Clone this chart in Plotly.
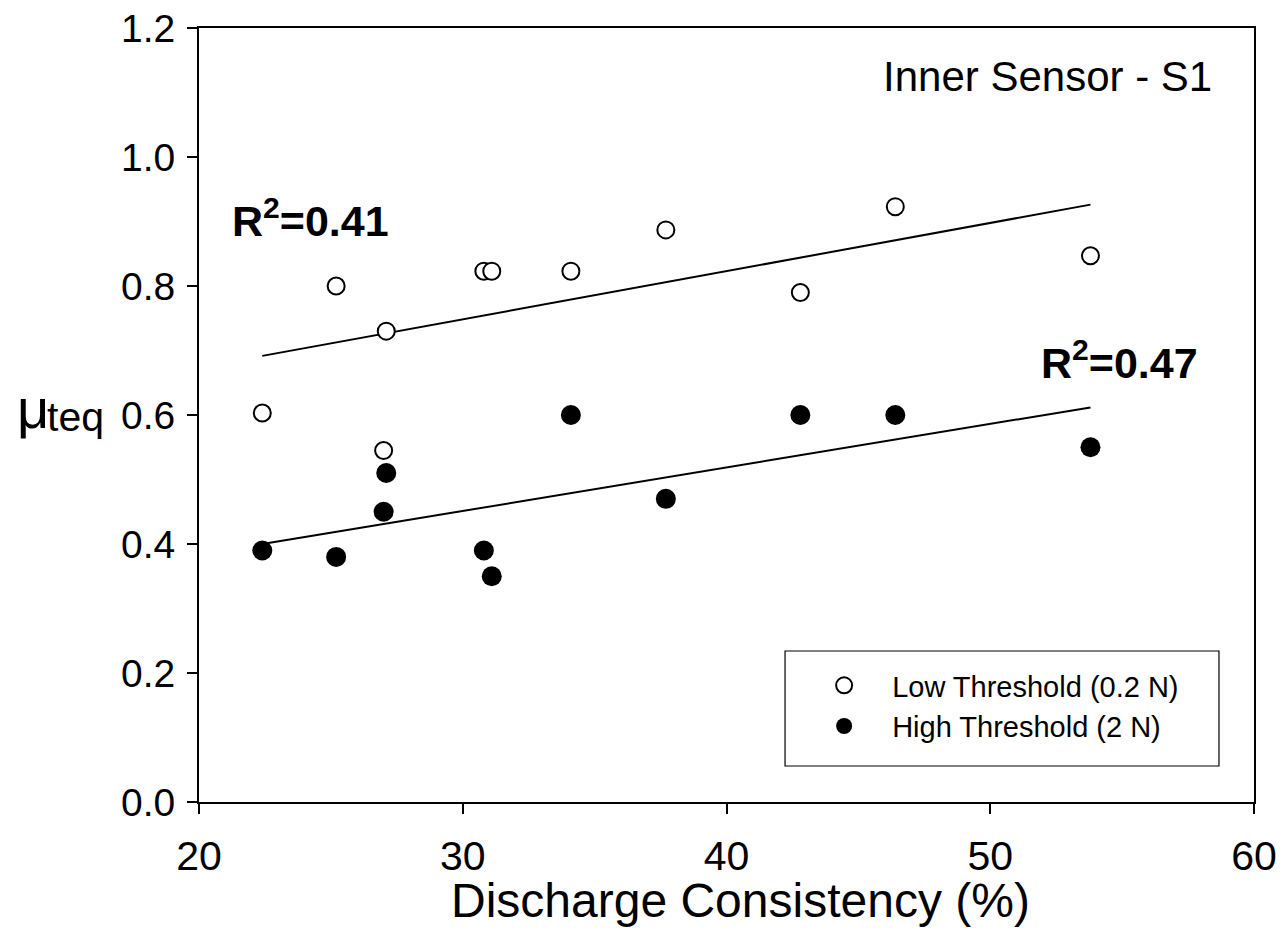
import numpy as np
import plotly.graph_objects as go

# ---- data ----
low_x = [22.4, 25.2, 27.1, 27.0, 30.8, 31.1, 34.1, 37.7, 42.8, 46.4, 53.8]
low_y = [0.603, 0.800, 0.730, 0.545, 0.823, 0.823, 0.823, 0.887, 0.790, 0.923, 0.847]
high_x = [22.4, 25.2, 27.0, 27.1, 30.8, 31.1, 34.1, 37.7, 42.8, 46.4, 53.8]
high_y = [0.390, 0.380, 0.450, 0.510, 0.390, 0.350, 0.600, 0.470, 0.600, 0.600, 0.550]
series_names = ["Low Threshold (0.2 N)", "High Threshold (2 N)"]
r2_labels = ["R<sup>2</sup>=0.41", "R<sup>2</sup>=0.47"]
x_ticks = [20, 30, 40, 50, 60]
y_ticks = [0.0, 0.2, 0.4, 0.6, 0.8, 1.0, 1.2]

FONT = "Liberation Sans, Arial, sans-serif"

def fit_line(xs, ys):
    m, b = np.polyfit(xs, ys, 1)
    xx = np.array([min(xs), max(xs)])
    return xx, m * xx + b

fig = go.Figure()

for xs, ys in [(low_x, low_y), (high_x, high_y)]:
    lx, ly = fit_line(xs, ys)
    fig.add_trace(go.Scatter(x=lx, y=ly, mode="lines", line=dict(color="black", width=2),
                             showlegend=False, hoverinfo="skip"))

fig.add_trace(go.Scatter(x=low_x, y=low_y, mode="markers", name=series_names[0],
                         marker=dict(symbol="circle", size=17, color="white",
                                     line=dict(color="black", width=2))))
fig.add_trace(go.Scatter(x=high_x, y=high_y, mode="markers", name=series_names[1],
                         marker=dict(symbol="circle", size=20, color="black",
                                     line=dict(color="black", width=0))))

axis_common = dict(showgrid=False, zeroline=False, showline=True, linecolor="black",
                   linewidth=2, mirror=True, ticks="outside", ticklen=10, tickwidth=1.5,
                   tickcolor="black", automargin=False)

fig.update_xaxes(range=[20, 60], tickvals=x_ticks, ticktext=[str(v) for v in x_ticks],
                 ticklabelstandoff=7, tickfont=dict(family=FONT, size=41, color="black"),
                 **axis_common)
fig.update_yaxes(range=[0, 1.2], tickvals=y_ticks, ticktext=[f"{v:.1f}" for v in y_ticks],
                 ticklabelstandoff=4, tickfont=dict(family=FONT, size=39, color="black"),
                 **axis_common)

annotations = [
    dict(text="Discharge Consistency (%)", x=0.5137, y=-0.1267, xref="paper", yref="paper",
         xanchor="center", yanchor="middle", showarrow=False,
         font=dict(family=FONT, size=48, color="black")),
    dict(text="\u03bc", x=-0.1745, y=0.509, xref="paper", yref="paper",
         xanchor="left", yanchor="middle", showarrow=False,
         font=dict(family=FONT, size=56, color="black")),
    dict(text="teq", x=-0.1460, y=0.497, xref="paper", yref="paper",
         xanchor="left", yanchor="middle", showarrow=False,
         font=dict(family=FONT, size=41, color="black")),
    dict(text="Inner Sensor - S1", x=0.9620, y=0.9367, xref="paper", yref="paper",
         xanchor="right", yanchor="middle", showarrow=False,
         font=dict(family=FONT, size=42, color="black")),
    dict(text="<b>" + r2_labels[0] + "</b>", x=0.0290, y=0.7544, xref="paper", yref="paper",
         xanchor="left", yanchor="middle", showarrow=False,
         font=dict(family=FONT, size=43, color="black")),
    dict(text="<b>" + r2_labels[1] + "</b>", x=0.7965, y=0.5709, xref="paper", yref="paper",
         xanchor="left", yanchor="middle", showarrow=False,
         font=dict(family=FONT, size=43, color="black")),
]

fig.update_layout(
    width=1284, height=928,
    margin=dict(l=199, r=30, t=28, b=126, autoexpand=False),
    paper_bgcolor="white", plot_bgcolor="white",
    font=dict(family=FONT, color="black"),
    annotations=annotations,
    shapes=[dict(type="rect", xref="paper", yref="paper", x0=0.5555, x1=0.9668,
                 y0=0.0465, y1=0.1951, line=dict(color="black", width=1.2),
                 fillcolor="rgba(0,0,0,0)")],
    legend=dict(x=0.5660, y=0.1835, xanchor="left", yanchor="top",
                bgcolor="rgba(0,0,0,0)", borderwidth=0, itemwidth=86,
                font=dict(family=FONT, size=29, color="black")),
)

fig.write_html("out.html", config={"displayModeBar": False},
               post_script="document.body.style.margin='0';document.body.style.overflow='hidden';")
